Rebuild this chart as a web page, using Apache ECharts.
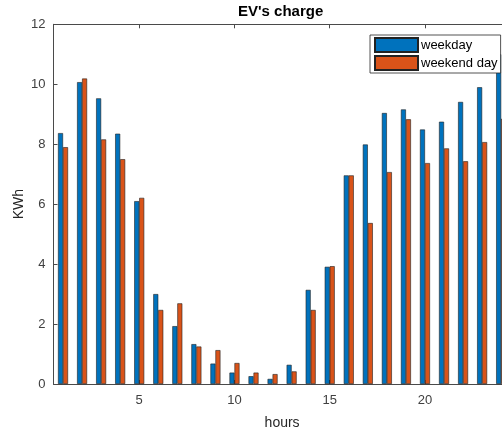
<!DOCTYPE html>
<html>
<head>
<meta charset="utf-8">
<script src="https://cdn.jsdelivr.net/npm/echarts@6/dist/echarts.min.js"></script>
<style>
html,body{margin:0;padding:0;background:#fff;overflow:hidden;}
#chart{width:502px;height:430px;}
</style>
</head>
<body>
<div id="chart"></div>
<script>
const hours = ['1','2','3','4','5','6','7','8','9','10','11','12','13','14','15','16','17','18','19','20','21','22','23','24'];
const weekday = [8.37, 10.07, 9.53, 8.35, 6.10, 3.00, 1.93, 1.33, 0.68, 0.38, 0.26, 0.17, 0.64, 3.14, 3.91, 6.96, 7.99, 9.04, 9.16, 8.49, 8.75, 9.41, 9.90, 11.0];
const weekendDay = [7.90, 10.19, 8.16, 7.50, 6.21, 2.47, 2.69, 1.25, 1.13, 0.70, 0.38, 0.33, 0.42, 2.47, 3.93, 6.96, 5.37, 7.07, 8.83, 7.37, 7.86, 7.43, 8.07, 8.85];
const xTickLabels = ['5','10','15','20'];
const yTicks = [0, 2, 4, 6, 8, 10, 12];

const font = '"Liberation Sans", Arial, Helvetica, sans-serif';
const axisColor = '#4a4a4a';
const chart = echarts.init(document.getElementById('chart'), null, {renderer: 'canvas'});
const showTick = (i, v) => xTickLabels.indexOf(String(v)) >= 0;
chart.setOption({
  animation: false,
  backgroundColor: '#ffffff',
  title: {
    text: "EV's charge",
    left: 238,
    top: 4,
    padding: 0,
    textStyle: {fontFamily: font, fontSize: 15, fontWeight: 'bold', color: '#000'}
  },
  legend: {
    orient: 'vertical',
    left: 370,
    top: 35,
    padding: [2, 3, 2, 4],
    itemGap: 2,
    itemWidth: 43,
    itemHeight: 14,
    icon: 'rect',
    backgroundColor: '#fff',
    borderColor: '#262626',
    borderWidth: 0.8,
    borderRadius: 0,
    textStyle: {fontFamily: font, fontSize: 13, color: '#000', padding: [0,0,0,-2], lineHeight: 14},
    data: ['weekday', 'weekend day']
  },
  grid: {left: 53.5, top: 24.3, width: 457.2, height: 359.7, containLabel: false, outerBoundsMode: 'none'},
  xAxis: [{
    type: 'category',
    data: hours,
    position: 'bottom',
    name: 'hours',
    nameLocation: 'middle',
    nameGap: 32,
    nameMoveOverlap: false,
    nameTextStyle: {fontFamily: font, fontSize: 14, color: '#262626'},
    axisLine: {show: true, lineStyle: {color: axisColor, width: 1}},
    axisTick: {show: true, inside: true, length: 4, alignWithLabel: true, interval: showTick, lineStyle: {color: axisColor}},
    axisLabel: {interval: showTick, fontFamily: font, fontSize: 13, color: '#404040', margin: 10},
    splitLine: {show: false}
  }, {
    type: 'category',
    data: hours,
    position: 'top',
    axisLine: {show: true, lineStyle: {color: axisColor, width: 1}},
    axisTick: {show: true, inside: true, length: 4, alignWithLabel: true, interval: showTick, lineStyle: {color: axisColor}},
    axisLabel: {show: false},
    splitLine: {show: false}
  }],
  yAxis: {
    type: 'value',
    min: 0,
    max: 12,
    interval: 2,
    name: 'KWh',
    nameLocation: 'middle',
    nameGap: 27,
    nameMoveOverlap: false,
    nameTextStyle: {fontFamily: font, fontSize: 14, color: '#262626'},
    axisLine: {show: true, lineStyle: {color: axisColor, width: 1}},
    axisTick: {show: true, inside: true, length: 4, lineStyle: {color: axisColor}},
    axisLabel: {fontFamily: font, fontSize: 13, color: '#404040', margin: 8},
    splitLine: {show: false}
  },
  series: [{
    name: 'weekday',
    type: 'bar',
    data: weekday,
    barWidth: 5,
    barGap: '0%',
    itemStyle: {color: '#0072BD', borderColor: '#222', borderWidth: 0.6}
  }, {
    name: 'weekend day',
    type: 'bar',
    data: weekendDay,
    barWidth: 5,
    barGap: '0%',
    itemStyle: {color: '#D95319', borderColor: '#222', borderWidth: 0.6}
  }]
});
</script>
</body>
</html>
